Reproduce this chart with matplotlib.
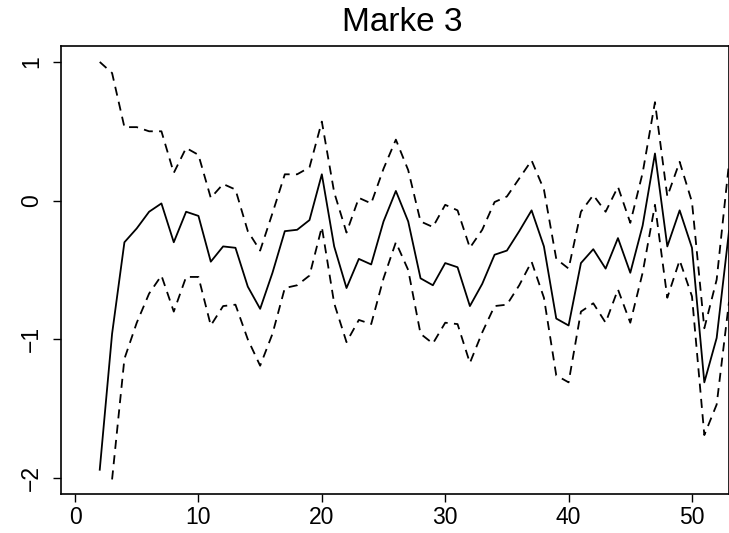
import matplotlib
matplotlib.use("Agg")
import matplotlib.pyplot as plt

plt.rcParams['font.family'] = ['Liberation Sans', 'DejaVu Sans']

# time index
x_mid = list(range(2, 54))
x_up = list(range(2, 54))
x_low = list(range(3, 54))

# estimate (solid) and bounds (dashed)
mid = [-1.94, -0.96, -0.30, -0.20, -0.08, -0.02, -0.30, -0.08, -0.11, -0.44,
       -0.33, -0.34, -0.62, -0.78, -0.52, -0.22, -0.21, -0.14, 0.19, -0.33,
       -0.63, -0.42, -0.46, -0.15, 0.07, -0.15, -0.56, -0.61, -0.45, -0.48,
       -0.76, -0.60, -0.39, -0.36, -0.22, -0.07, -0.33, -0.85, -0.90, -0.45,
       -0.35, -0.49, -0.27, -0.52, -0.18, 0.34, -0.33, -0.07, -0.34, -1.31,
       -0.99, -0.22]
upper = [1.00, 0.92, 0.53, 0.53, 0.50, 0.50, 0.20, 0.38, 0.33, 0.02,
         0.12, 0.08, -0.22, -0.36, -0.09, 0.19, 0.19, 0.24, 0.57, 0.06,
         -0.23, 0.02, -0.02, 0.23, 0.44, 0.22, -0.15, -0.19, -0.03, -0.07,
         -0.34, -0.21, -0.01, 0.03, 0.16, 0.29, 0.08, -0.42, -0.49, -0.08,
         0.04, -0.08, 0.10, -0.16, 0.20, 0.71, 0.03, 0.28, -0.01, -0.92,
         -0.57, 0.27]
lower = [-2.01, -1.14, -0.88, -0.67, -0.54, -0.80, -0.55, -0.55, -0.90,
         -0.76, -0.75, -1.00, -1.19, -0.96, -0.63, -0.61, -0.54, -0.19, -0.74,
         -1.02, -0.86, -0.89, -0.56, -0.30, -0.50, -0.96, -1.03, -0.88, -0.89,
         -1.17, -0.95, -0.76, -0.75, -0.61, -0.44, -0.70, -1.26, -1.31, -0.80,
         -0.74, -0.88, -0.64, -0.88, -0.52, -0.03, -0.70, -0.43, -0.69, -1.69,
         -1.47, -0.73]

fig = plt.figure(figsize=(7.29, 5.33), dpi=100)
ax = fig.add_axes([61 / 729, 39 / 533, 668 / 729, 448 / 533])

ax.plot(x_mid, mid, color='black', lw=1.3)
ax.plot(x_up, upper, color='black', lw=1.3, dashes=(5, 3.5))
ax.plot(x_low, lower, color='black', lw=1.3, dashes=(5, 3.5))

ax.set_xlim(-1.14, 53.0)
ax.set_ylim(-2.115, 1.115)
ax.set_xticks([0, 10, 20, 30, 40, 50])
ax.set_yticks([-2, -1, 0, 1])
ax.set_yticklabels(['\u22122', '\u22121', '0', '1'], rotation=90, va='center')

for s in ax.spines.values():
    s.set_linewidth(1.2)
ax.tick_params(direction='out', length=6, width=1, labelsize=16.5)
ax.tick_params(axis='x', pad=3)
ax.tick_params(axis='y', pad=7)

# plot region in the source runs past the right edge, so the title sits a bit right
ax.set_title('Marke 3', fontsize=24, x=0.5105, pad=10.5)

fig.savefig('out.png', dpi=100)
